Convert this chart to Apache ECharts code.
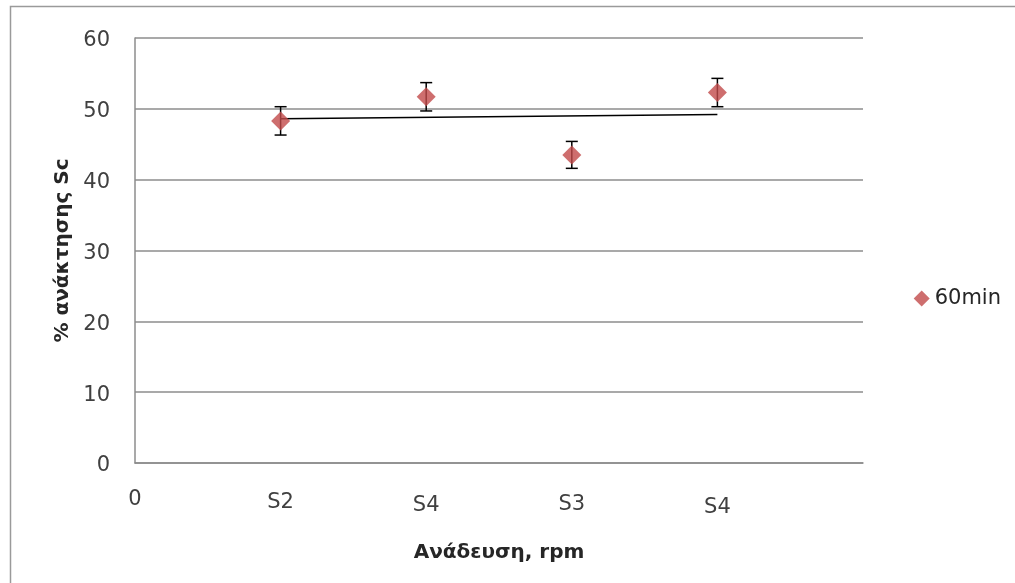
<!DOCTYPE html>
<html>
<head>
<meta charset="utf-8">
<script src="https://cdn.jsdelivr.net/npm/echarts@6/dist/echarts.min.js"></script>
<style>
  html, body { margin: 0; padding: 0; background: #fff; }
  #chart { width: 1015px; height: 583px; }
</style>
</head>
<body>
<div id="chart"></div>
<script>
// data
const xValues = [1, 2, 3, 4];
const recovery60 = [48.3, 51.7, 43.5, 52.3];
const errors60 = [2.0, 2.0, 1.9, 2.0];
// trendline end points (as drawn)
const trendX = [1, 4];
const trendY = [48.6, 49.2];
// x tick labels at 0..5
const xTickLabels = ["0", "S2", "S4", "S3", "S4", ""];
const yTicks = [0, 10, 20, 30, 40, 50, 60];

const chart = echarts.init(document.getElementById("chart"));

const points = xValues.map((x, i) => [x, recovery60[i]]);
const bars = xValues.map((x, i) => [x, recovery60[i] - errors60[i], recovery60[i] + errors60[i]]);
const trend = trendX.map((x, i) => [x, trendY[i]]);

const textColor = "#404040";
const lineGray = "#8c8c8c";
const font = "'DejaVu Sans', sans-serif";

const option = {
  animation: false,
  textStyle: { fontFamily: font },
  graphic: [
    {
      type: "rect",
      shape: { x: 10.5, y: 6.5, width: 1100, height: 700 },
      style: { fill: "none", stroke: "#9a9a9a", lineWidth: 1.5 },
      silent: true,
    },
  ],
  grid: {
    left: 135,
    right: 152,
    top: 38,
    bottom: 120,
  },
  legend: {
    right: 9,
    top: 283,
    data: [{ name: "60min", icon: "diamond" }],
    itemWidth: 16,
    itemHeight: 16,
    itemGap: 4,
    textStyle: { color: "#262626", fontSize: 21, fontFamily: font },
  },
  xAxis: {
    type: "value",
    min: 0,
    max: 5,
    interval: 1,
    name: "Ανάδευση, rpm",
    nameLocation: "middle",
    nameGap: 80,
    nameTextStyle: { color: "#262626", fontSize: 20, fontWeight: "bold", fontFamily: font },
    axisLine: { show: true, lineStyle: { color: lineGray, width: 1.5 } },
    axisTick: { show: false },
    splitLine: { show: false },
    axisLabel: {
      margin: 26,
      color: textColor,
      fontSize: 21,
      fontFamily: font,
      formatter: (v) => {
        const i = Math.round(v);
        const t = xTickLabels[i] || "";
        return t ? "{l" + i + "|" + t + "}" : "";
      },
      rich: {
        l0: { fontSize: 21, padding: [0, 0, 0, 0] },
        l1: { fontSize: 21, padding: [3, 0, 0, 0] },
        l2: { fontSize: 21, padding: [6, 0, 0, 0] },
        l3: { fontSize: 21, padding: [5, 0, 0, 0] },
        l4: { fontSize: 21, padding: [8, 0, 0, 0] },
      },
    },
  },
  yAxis: {
    type: "value",
    min: yTicks[0],
    max: yTicks[yTicks.length - 1],
    interval: 10,
    name: "% ανάκτησης Sc",
    nameLocation: "middle",
    nameGap: 62,
    nameTextStyle: { color: "#262626", fontSize: 20, fontWeight: "bold", fontFamily: font },
    axisLine: { show: true, lineStyle: { color: lineGray, width: 1.5 } },
    axisTick: { show: false },
    splitLine: { show: true, lineStyle: { color: lineGray, width: 1.5 } },
    axisLabel: {
      margin: 25,
      color: textColor,
      fontSize: 21,
      fontFamily: font,
      formatter: (v) => "{a|" + v + "}",
      rich: { a: { fontSize: 21, padding: [6, 0, 0, 0] } },
    },
  },
  series: [
    {
      name: "trend",
      type: "line",
      data: trend,
      symbol: "none",
      lineStyle: { color: "#000", width: 1.5 },
      z: 3,
    },
    {
      name: "err",
      type: "custom",
      data: bars,
      z: 4,
      renderItem: (params, api) => {
        const x = api.value(0);
        const lo = api.coord([x, api.value(1)]);
        const hi = api.coord([x, api.value(2)]);
        const cap = 6;
        const style = { stroke: "#000", lineWidth: 1.5 };
        return {
          type: "group",
          children: [
            { type: "line", shape: { x1: lo[0], y1: lo[1], x2: hi[0], y2: hi[1] }, style },
            { type: "line", shape: { x1: hi[0] - cap, y1: hi[1], x2: hi[0] + cap, y2: hi[1] }, style },
            { type: "line", shape: { x1: lo[0] - cap, y1: lo[1], x2: lo[0] + cap, y2: lo[1] }, style },
          ],
        };
      },
    },
    {
      name: "60min",
      type: "scatter",
      data: points,
      symbol: "diamond",
      symbolSize: 19,
      itemStyle: { color: "#c24a4a" },
      z: 5,
    },
  ],
};

chart.setOption(option);
</script>
</body>
</html>
